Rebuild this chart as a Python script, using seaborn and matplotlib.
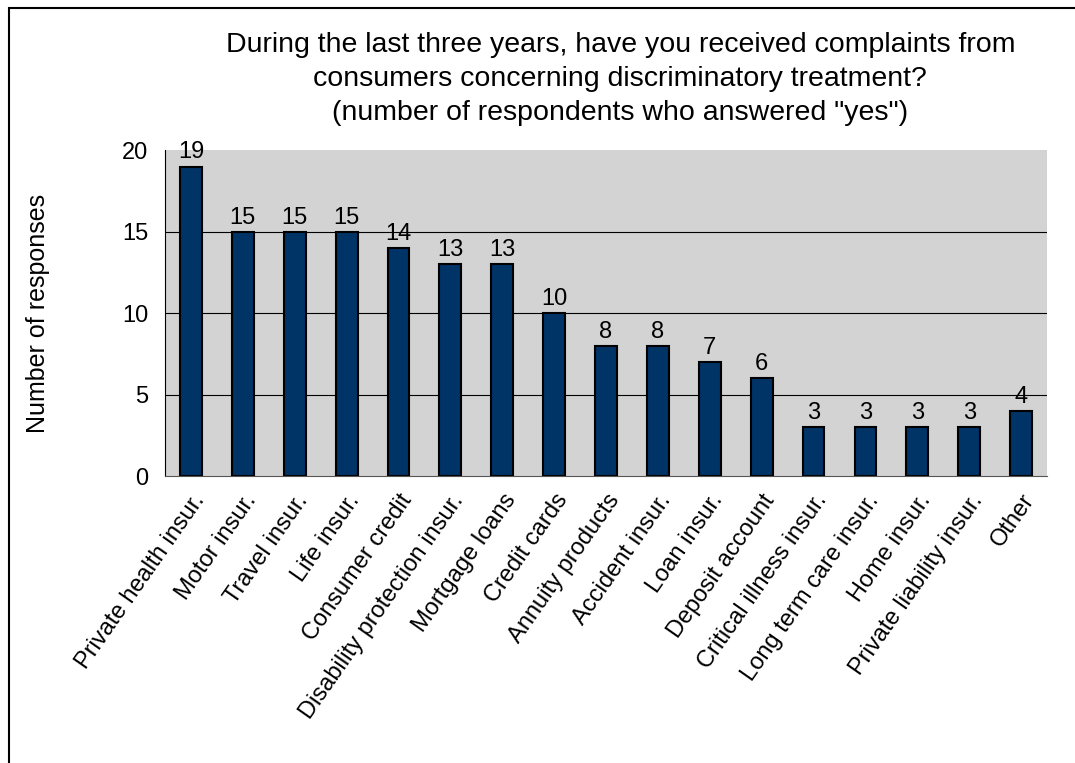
import matplotlib
matplotlib.use("Agg")
import matplotlib.pyplot as plt
import seaborn as sns
import numpy as np
import pandas as pd

categories = ["Private health insur.", "Motor insur.", "Travel insur.", "Life insur.",
              "Consumer credit", "Disability protection insur.", "Mortgage loans",
              "Credit cards", "Annuity products", "Accident insur.", "Loan insur.",
              "Deposit account", "Critical illness insur.", "Long term care insur.",
              "Home insur.", "Private liability insur.", "Other"]
responses = [19, 15, 15, 15, 14, 13, 13, 10, 8, 8, 7, 6, 3, 3, 3, 3, 4]
yticks = [0, 5, 10, 15, 20]

title = ('During the last three years, have you received complaints from\n'
         'consumers concerning discriminatory treatment?\n'
         '(number of respondents who answered "yes")')

sns.set_style("white")
plt.rcParams['font.family'] = ['Liberation Sans', 'DejaVu Sans']
plt.rcParams['text.color'] = 'black'
plt.rcParams['xtick.color'] = 'black'
plt.rcParams['ytick.color'] = 'black'
plt.rcParams['axes.labelcolor'] = 'black'

df = pd.DataFrame({"category": categories, "responses": responses})

fig = plt.figure(figsize=(10.75, 7.63), dpi=100)
ax = fig.add_axes([0.1535, 0.376, 0.8205, 0.427])
ax.set_facecolor("#d3d3d3")

sns.barplot(data=df, x="category", y="responses", color="#003366",
            edgecolor="black", linewidth=1.5, width=0.42, saturation=1, ax=ax)

ax.set_ylim(0, 20)
ax.set_xlim(-0.5, len(categories) - 0.5)
ax.set_yticks(yticks)
for y in yticks[1:-1]:
    ax.axhline(y, color="black", linewidth=0.8, zorder=0.5)

for i, v in enumerate(responses):
    ax.text(i, v + 0.2, str(v), ha="center", va="bottom", fontsize=17)

ax.set_xticks(np.arange(len(categories)))
ax.set_xticklabels(categories, rotation=55, ha="right", rotation_mode="anchor", fontsize=17)
ax.set_xticks(np.arange(len(categories) + 1) - 0.5, minor=True)
ax.tick_params(axis="x", which="major", length=0, pad=10)
ax.tick_params(axis="x", which="minor", length=6, color="#555555")
ax.tick_params(axis="y", length=6, labelsize=17, pad=6)

ax.set_xlabel("")
ax.set_ylabel("Number of responses", fontsize=18, labelpad=52)
for s in ["top", "right"]:
    ax.spines[s].set_visible(False)
ax.spines["left"].set_color("black")
ax.spines["bottom"].set_color("#555555")

fig.text(0.577, 0.958, title, ha="center", va="top", fontsize=20.5, linespacing=1.4)

fig.patches.append(plt.Rectangle((0.008, -0.01), 1.2, 1.0, transform=fig.transFigure,
                                 fill=False, edgecolor="black", linewidth=1.5))

fig.savefig("out.png", dpi=100)
